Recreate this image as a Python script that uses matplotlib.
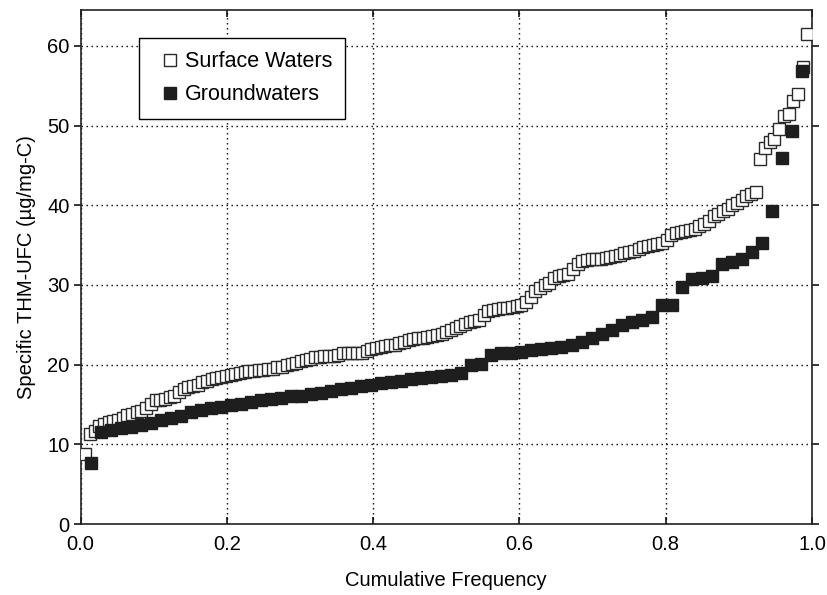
import numpy as np
import matplotlib
matplotlib.use("Agg")
import matplotlib.pyplot as plt

plt.rcParams['font.family'] = ['Liberation Sans', 'DejaVu Sans']

# Specific THM-UFC values (ug/mg-C), sorted
surface_waters = [
    8.8, 11.3, 11.7, 12.3, 12.6, 12.8, 12.9, 13.0, 13.3, 13.7,
    13.85, 14.0, 14.2, 14.5, 15.1, 15.5, 15.6, 15.7, 15.9, 16.1,
    16.6, 16.9, 17.2, 17.35, 17.5, 17.8, 18.0, 18.2, 18.35, 18.5,
    18.6, 18.7, 18.8, 18.95, 19.05, 19.15, 19.2, 19.3, 19.35, 19.4,
    19.5, 19.65, 19.75, 19.9, 20.05, 20.25, 20.4, 20.55, 20.7, 20.9,
    21.0, 21.05, 21.05, 21.1, 21.2, 21.4, 21.45, 21.45, 21.5, 21.5,
    21.7, 22.0, 22.1, 22.25, 22.35, 22.4, 22.5, 22.7, 22.9, 23.05,
    23.2, 23.3, 23.4, 23.5, 23.6, 23.7, 23.9, 24.1, 24.35, 24.65,
    24.9, 25.1, 25.3, 25.45, 25.6, 26.2, 26.7, 26.85, 27.0, 27.1,
    27.15, 27.25, 27.35, 27.45, 27.8, 28.5, 29.2, 29.6, 30.0, 30.3,
    30.9, 31.1, 31.25, 31.4, 32.0, 32.6, 33.0, 33.1, 33.2, 33.25,
    33.3, 33.4, 33.5, 33.6, 33.8, 33.95, 34.1, 34.3, 34.55, 34.8,
    34.9, 35.0, 35.1, 35.25, 35.6, 36.3, 36.55, 36.65, 36.75, 36.9,
    37.05, 37.35, 37.6, 38.0, 38.6, 38.95, 39.25, 39.5, 40.0, 40.3,
    40.65, 41.1, 41.4, 41.7, 45.8, 47.2, 47.9, 48.3, 49.6, 51.2,
    51.5, 53.1, 54.0, 57.4, 61.5,
]

groundwaters = [
    7.7, 11.6, 11.8, 12.0, 12.2, 12.4, 12.7, 13.0, 13.3, 13.6,
    14.0, 14.3, 14.5, 14.7, 14.9, 15.1, 15.3, 15.5, 15.7, 15.8,
    16.0, 16.1, 16.3, 16.5, 16.7, 16.9, 17.1, 17.3, 17.5, 17.7,
    17.8, 18.0, 18.2, 18.3, 18.5, 18.6, 18.7, 18.9, 20.0, 20.1,
    21.2, 21.4, 21.5, 21.6, 21.8, 22.0, 22.1, 22.2, 22.4, 22.9,
    23.4, 23.8, 24.4, 25.0, 25.3, 25.6, 26.0, 27.5, 27.5, 29.8,
    30.7, 30.9, 31.1, 32.6, 32.9, 33.3, 34.1, 35.2, 39.3, 45.9,
    49.3, 56.8,
]

x_ticks = [0.0, 0.2, 0.4, 0.6, 0.8, 1.0]
x_tick_labels = ["0.0", "0.2", "0.4", "0.6", "0.8", "1.0"]
y_ticks = [0, 10, 20, 30, 40, 50, 60]
labels = ["Surface Waters", "Groundwaters"]


def cumulative_frequency(values):
    n = len(values)
    return np.arange(1, n + 1) / (n + 1)


fig = plt.figure(figsize=(8.27, 5.95), dpi=100)
ax = fig.add_axes([80.5 / 827, 1 - 524 / 595, 731.5 / 827, 514 / 595])

ax.plot(cumulative_frequency(surface_waters), surface_waters, linestyle='none',
        marker='s', markersize=8.5, markerfacecolor='white',
        markeredgecolor='#2a2a2a', markeredgewidth=1.0, label=labels[0], zorder=3)
ax.plot(cumulative_frequency(groundwaters), groundwaters, linestyle='none',
        marker='s', markersize=8.5, markerfacecolor='#1e1e1e',
        markeredgecolor='#1e1e1e', markeredgewidth=1.0, label=labels[1], zorder=4)

ax.set_xlim(0, 1.0)
ax.set_ylim(0, 64.5)
ax.set_xticks(x_ticks)
ax.set_xticklabels(x_tick_labels)
ax.set_yticks(y_ticks)

ax.grid(True, color='black', linestyle=(0, (1, 2.6)), linewidth=1.0)
ax.set_axisbelow(True)

for s in ax.spines.values():
    s.set_linewidth(1.2)
    s.set_color('#222222')

ax.tick_params(axis='y', which='both', direction='out', length=5, width=1.1,
               labelsize=14.5, pad=3)
ax.tick_params(axis='x', which='both', direction='in', length=5, width=1.1,
               labelsize=14.5, top=True, pad=8)
ax.tick_params(axis='y', which='both', right=True)

ax.set_xlabel("Cumulative Frequency", fontsize=14.5, labelpad=12)
ax.set_ylabel("Specific THM-UFC (µg/mg-C)", fontsize=14.5, labelpad=8)

leg = ax.legend(loc='upper left', bbox_to_anchor=((139 - 80.5) / 731.5, (524 - 38) / 514),
                borderaxespad=0, frameon=True, fancybox=False, shadow=False,
                fontsize=15.5, handlelength=1.6, handletextpad=-0.1,
                borderpad=0.62, labelspacing=0.55, markerscale=1.0)
leg.get_frame().set_edgecolor('black')
leg.get_frame().set_linewidth(1.0)
leg.get_frame().set_alpha(1)

fig.savefig("out.png", dpi=100)
